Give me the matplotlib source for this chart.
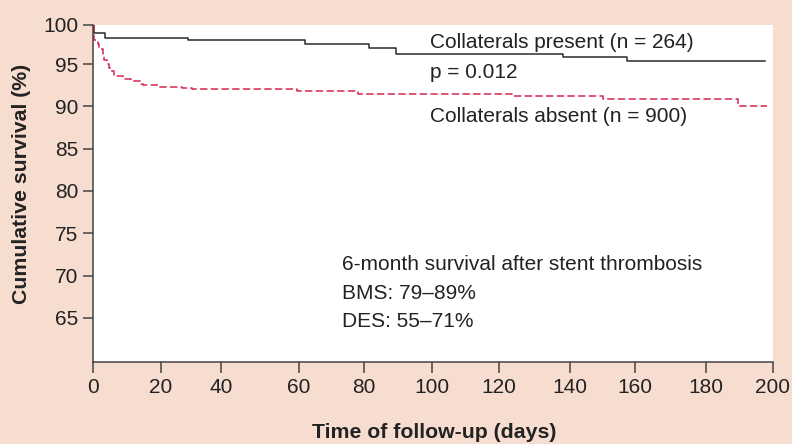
import numpy as np
import matplotlib
matplotlib.use('Agg')
from matplotlib import pyplot as plt

# Kaplan-Meier style curves
days_present = [0, 0.3, 3.5, 29, 61.8, 81.5, 89.5, 138, 157.6, 197.7]
surv_present = [100, 98.9, 98.35, 98.0, 97.55, 97.1, 96.25, 95.85, 95.35, 95.35]

days_absent = [0, 0.2, 1.4, 1.7, 2.8, 3.3, 4.0, 4.5, 5.3, 6.0, 8.8, 9.5, 11.2, 14.2, 14.8,
               19.5, 27, 30.4, 59.4, 78.2, 124, 150, 189.5, 198.2]
surv_absent = [100, 98.0, 97.5, 96.85, 96.3, 95.45, 95.05, 94.55, 94.15, 93.6, 93.4, 93.2,
               93.05, 92.7, 92.5, 92.25, 92.15, 92.05, 91.85, 91.45, 91.2, 90.85, 90.0, 90.0]

x_ticks = [0, 20, 40, 60, 80, 100, 120, 140, 160, 180, 200]
y_ticks = [65, 70, 75, 80, 85, 90, 95, 100]

# the original axes are not evenly spaced, so map the ticks to where they sit
x_map_v = [-20] + x_ticks + [220]
x_map_p = [26.3, 93.3, 161, 220.7, 299, 364, 432, 499.3, 570, 635, 705.7, 772.7, 839.7]
y_map_v = [50, 55, 60, 65, 70, 75, 80, 85, 90, 95, 100, 105]
y_map_p = [-0.3, 41.9, 84.1, 126.3, 168.3, 210.7, 253, 295, 337.3, 379.7, 419, 458.3]

bg = '#f7dcd0'
plt.rcParams['font.family'] = ['Liberation Sans', 'DejaVu Sans']

fig = plt.figure(figsize=(7.92, 4.44), dpi=100, facecolor=bg)
ax = fig.add_axes([93.3 / 792, 82.3 / 444, (772.7 - 93.3) / 792, (419.3 - 82.3) / 444])
ax.set_facecolor('white')

ax.set_xscale('function', functions=(lambda v: np.interp(v, x_map_v, x_map_p),
                                     lambda p: np.interp(p, x_map_p, x_map_v)))
ax.set_yscale('function', functions=(lambda v: np.interp(v, y_map_v, y_map_p),
                                     lambda p: np.interp(p, y_map_p, y_map_v)))

ax.plot(days_present, surv_present, color='#2b2b2b', lw=1.1, drawstyle='steps-post')
ax.plot(days_absent, surv_absent, color='#d6264f', lw=1.1, drawstyle='steps-post',
        dashes=(4.8, 2.2))

ax.set_xlim(0, 200)
ax.set_ylim(59.79, 100)
ax.set_xticks(x_ticks)
ax.set_yticks(y_ticks)
ax.minorticks_off()
ax.tick_params(axis='both', labelsize=15, color='#444444', width=1.1,
               labelcolor='#222222')
ax.tick_params(axis='x', length=8, pad=3.5)
ax.tick_params(axis='y', length=7.5, pad=3.5)

for s in ['top', 'right']:
    ax.spines[s].set_visible(False)
for s in ['left', 'bottom']:
    ax.spines[s].set_color('#444444')
    ax.spines[s].set_linewidth(1.1)

fig.text(22 / 792, 1 - 184 / 444, 'Cumulative survival (%)', rotation=90, ha='center',
         va='center', fontsize=15.3, fontweight='bold', color='#222222')
fig.text(434 / 792, 1 - 432 / 444, 'Time of follow-up (days)', ha='center', va='center',
         fontsize=15.3, fontweight='bold', color='#222222')

txt = dict(fontsize=15, color='#222222', va='center', ha='left')
fig.text(430 / 792, 1 - 42 / 444, 'Collaterals present (n = 264)', **txt)
fig.text(430 / 792, 1 - 73 / 444, 'p = 0.012', **txt)
fig.text(430 / 792, 1 - 116 / 444, 'Collaterals absent (n = 900)', **txt)
fig.text(341.7 / 792, 1 - 265 / 444, '6-month survival after stent thrombosis', **txt)
fig.text(341.7 / 792, 1 - 293.3 / 444, 'BMS: 79\u201389%', **txt)
fig.text(341.7 / 792, 1 - 321.7 / 444, 'DES: 55\u201371%', **txt)

fig.savefig('out.png', dpi=100, facecolor=bg)
